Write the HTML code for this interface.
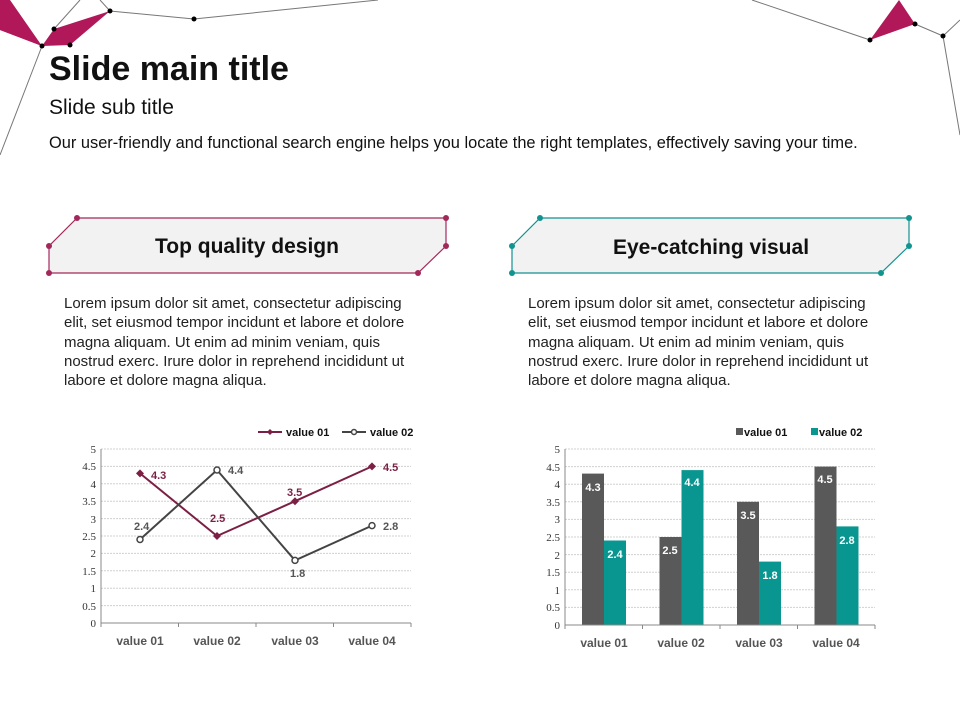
<!DOCTYPE html>
<html><head><meta charset="utf-8"><style>
body{margin:0;width:960px;height:720px;background:#fff;overflow:hidden;font-family:"Liberation Sans",sans-serif;}
.t{position:absolute;color:#111;}
.p{white-space:nowrap;}
</style></head><body>
<svg width="960" height="720" style="position:absolute;left:0;top:0" font-family="Liberation Sans, sans-serif">
<g stroke="#777" stroke-width="1" fill="none">
<line x1="42" y1="46" x2="0" y2="155"/><line x1="54" y1="29" x2="80" y2="0"/><line x1="110" y1="11" x2="100" y2="0"/>
<polyline points="110,11 194,19 378,0"/>
<polyline points="752,0 870,40"/><polyline points="915,24 943,36 960,20"/><line x1="943" y1="36" x2="960" y2="135"/>
</g>
<polygon points="0,18 0,30 42,46" fill="#b0185a"/>
<polygon points="0,0 10,0 42,46 0,30" fill="#b0185a"/>
<polygon points="42,46 54,29 110,11 70,45" fill="#b0185a"/>
<polygon points="870,40 899,0 915,24" fill="#b0185a"/>
<g fill="#000"><circle cx="42" cy="46" r="2.5"/><circle cx="54" cy="29" r="2.5"/><circle cx="70" cy="45" r="2.5"/><circle cx="110" cy="11" r="2.5"/><circle cx="194" cy="19" r="2.5"/><circle cx="870" cy="40" r="2.5"/><circle cx="915" cy="24" r="2.5"/><circle cx="943" cy="36" r="2.5"/></g>
<polygon points="77,218 446,218 446,246 418,273 49,273 49,246" fill="#f2f2f2" stroke="#a3285a" stroke-width="1.2"/>
<g fill="#a3285a"><circle cx="77" cy="218" r="3"/><circle cx="446" cy="218" r="3"/><circle cx="446" cy="246" r="3"/><circle cx="418" cy="273" r="3"/><circle cx="49" cy="273" r="3"/><circle cx="49" cy="246" r="3"/></g>
<polygon points="540,218 909,218 909,246 881,273 512,273 512,246" fill="#f2f2f2" stroke="#119390" stroke-width="1.2"/>
<g fill="#119390"><circle cx="540" cy="218" r="3"/><circle cx="909" cy="218" r="3"/><circle cx="909" cy="246" r="3"/><circle cx="881" cy="273" r="3"/><circle cx="512" cy="273" r="3"/><circle cx="512" cy="246" r="3"/></g>
<text x="247" y="253" text-anchor="middle" font-size="21" font-weight="bold" fill="#111">Top quality design</text>
<text x="711" y="254" text-anchor="middle" font-size="21" font-weight="bold" fill="#111">Eye-catching visual</text>

<g stroke="#d0d0d0" stroke-dasharray="2,1">
<line x1="101" x2="411" y1="449" y2="449"/><line x1="101" x2="411" y1="466.4" y2="466.4"/><line x1="101" x2="411" y1="483.8" y2="483.8"/><line x1="101" x2="411" y1="501.2" y2="501.2"/><line x1="101" x2="411" y1="518.6" y2="518.6"/><line x1="101" x2="411" y1="536" y2="536"/><line x1="101" x2="411" y1="553.4" y2="553.4"/><line x1="101" x2="411" y1="570.8" y2="570.8"/><line x1="101" x2="411" y1="588.2" y2="588.2"/><line x1="101" x2="411" y1="605.6" y2="605.6"/>
</g>
<g stroke="#888"><line x1="101" y1="449" x2="101" y2="627"/><line x1="101" y1="623" x2="411" y2="623"/>
<line x1="178.5" y1="623" x2="178.5" y2="627"/><line x1="256" y1="623" x2="256" y2="627"/><line x1="333.5" y1="623" x2="333.5" y2="627"/><line x1="411" y1="623" x2="411" y2="627"/></g>
<g font-family="Liberation Serif, serif" font-size="11" fill="#333" text-anchor="end">
<text x="96" y="453">5</text><text x="96" y="470">4.5</text><text x="96" y="488">4</text><text x="96" y="505">3.5</text><text x="96" y="523">3</text><text x="96" y="540">2.5</text><text x="96" y="557">2</text><text x="96" y="575">1.5</text><text x="96" y="592">1</text><text x="96" y="610">0.5</text><text x="96" y="627">0</text></g>
<g font-size="12" font-weight="bold" fill="#555" text-anchor="middle"><text x="140" y="645">value 01</text><text x="217" y="645">value 02</text><text x="295" y="645">value 03</text><text x="372" y="645">value 04</text></g>
<polyline points="140,473.4 217,536 295,501.2 372,466.4" fill="none" stroke="#7c1f45" stroke-width="2"/>
<polyline points="140,539.5 217,470 295,560.4 372,525.6" fill="none" stroke="#444" stroke-width="2"/>
<g fill="#7c1f45"><path d="M140,469.4l4,4-4,4-4-4z"/><path d="M217,532l4,4-4,4-4-4z"/><path d="M295,497.2l4,4-4,4-4-4z"/><path d="M372,462.4l4,4-4,4-4-4z"/></g>
<g fill="#fff" stroke="#444" stroke-width="1.5"><circle cx="140" cy="539.5" r="3"/><circle cx="217" cy="470" r="3"/><circle cx="295" cy="560.4" r="3"/><circle cx="372" cy="525.6" r="3"/></g>
<g font-size="11" font-weight="bold" fill="#7c1f45"><text x="151" y="479">4.3</text><text x="210" y="522">2.5</text><text x="287" y="496">3.5</text><text x="383" y="471">4.5</text></g>
<g font-size="11" font-weight="bold" fill="#555"><text x="134" y="530">2.4</text><text x="228" y="474">4.4</text><text x="290" y="577">1.8</text><text x="383" y="530">2.8</text></g>
<line x1="258" y1="432" x2="282" y2="432" stroke="#7c1f45" stroke-width="2"/><path d="M270,429l3,3-3,3-3-3z" fill="#7c1f45"/>
<text x="286" y="436" font-size="11" font-weight="bold" fill="#111">value 01</text>
<line x1="342" y1="432" x2="366" y2="432" stroke="#444" stroke-width="2"/><circle cx="354" cy="432" r="2.5" fill="#fff" stroke="#444" stroke-width="1.5"/>
<text x="370" y="436" font-size="11" font-weight="bold" fill="#111">value 02</text>

<g stroke="#d0d0d0" stroke-dasharray="2,1">
<line x1="565" x2="875" y1="449" y2="449"/><line x1="565" x2="875" y1="466.6" y2="466.6"/><line x1="565" x2="875" y1="484.2" y2="484.2"/><line x1="565" x2="875" y1="501.8" y2="501.8"/><line x1="565" x2="875" y1="519.4" y2="519.4"/><line x1="565" x2="875" y1="537" y2="537"/><line x1="565" x2="875" y1="554.6" y2="554.6"/><line x1="565" x2="875" y1="572.2" y2="572.2"/><line x1="565" x2="875" y1="589.8" y2="589.8"/><line x1="565" x2="875" y1="607.4" y2="607.4"/>
</g>
<g fill="#595959"><rect x="582" y="473.6" width="22" height="151.4"/><rect x="659.5" y="537" width="22" height="88"/><rect x="737" y="501.8" width="22" height="123.2"/><rect x="814.5" y="466.6" width="22" height="158.4"/></g>
<g fill="#0a9690"><rect x="604" y="540.5" width="22" height="84.5"/><rect x="681.5" y="470.1" width="22" height="154.9"/><rect x="759" y="561.6" width="22" height="63.4"/><rect x="836.5" y="526.4" width="22" height="98.6"/></g>
<g stroke="#888"><line x1="565" y1="449" x2="565" y2="629"/><line x1="565" y1="625" x2="875" y2="625"/>
<line x1="642.5" y1="625" x2="642.5" y2="629"/><line x1="720" y1="625" x2="720" y2="629"/><line x1="797.5" y1="625" x2="797.5" y2="629"/><line x1="875" y1="625" x2="875" y2="629"/></g>
<g font-family="Liberation Serif, serif" font-size="11" fill="#333" text-anchor="end">
<text x="560" y="453">5</text><text x="560" y="471">4.5</text><text x="560" y="488">4</text><text x="560" y="506">3.5</text><text x="560" y="523">3</text><text x="560" y="541">2.5</text><text x="560" y="559">2</text><text x="560" y="576">1.5</text><text x="560" y="594">1</text><text x="560" y="611">0.5</text><text x="560" y="629">0</text></g>
<g font-size="12" font-weight="bold" fill="#555" text-anchor="middle"><text x="604" y="647">value 01</text><text x="681" y="647">value 02</text><text x="759" y="647">value 03</text><text x="836" y="647">value 04</text></g>
<g font-size="11" font-weight="bold" fill="#fff" text-anchor="middle"><text x="593" y="491">4.3</text><text x="615" y="558">2.4</text><text x="670" y="554">2.5</text><text x="692" y="486">4.4</text><text x="748" y="519">3.5</text><text x="770" y="579">1.8</text><text x="825" y="483">4.5</text><text x="847" y="544">2.8</text></g>
<rect x="736" y="428" width="7" height="7" fill="#595959"/><text x="744" y="436" font-size="11" font-weight="bold" fill="#111">value 01</text>
<rect x="811" y="428" width="7" height="7" fill="#0a9690"/><text x="819" y="436" font-size="11" font-weight="bold" fill="#111">value 02</text>
</svg>
<div class="t" style="left:49px;top:50px;font-size:34px;font-weight:bold;">Slide main title</div>
<div class="t" style="left:49px;top:96px;font-size:21px;">Slide sub title</div>
<div class="t p" style="left:49px;top:134px;font-size:16.4px;">Our user-friendly and functional search engine helps you locate the right templates, effectively saving your time.</div>
<div class="t p" style="left:64px;top:294px;font-size:15px;line-height:19.3px;color:#222">Lorem ipsum dolor sit amet, consectetur adipiscing<br>elit, set eiusmod tempor incidunt et labore et dolore<br>magna aliquam. Ut enim ad minim veniam, quis<br>nostrud exerc. Irure dolor in reprehend incididunt ut<br>labore et dolore magna aliqua.</div>
<div class="t p" style="left:528px;top:294px;font-size:15px;line-height:19.3px;color:#222">Lorem ipsum dolor sit amet, consectetur adipiscing<br>elit, set eiusmod tempor incidunt et labore et dolore<br>magna aliquam. Ut enim ad minim veniam, quis<br>nostrud exerc. Irure dolor in reprehend incididunt ut<br>labore et dolore magna aliqua.</div>
</body></html>
